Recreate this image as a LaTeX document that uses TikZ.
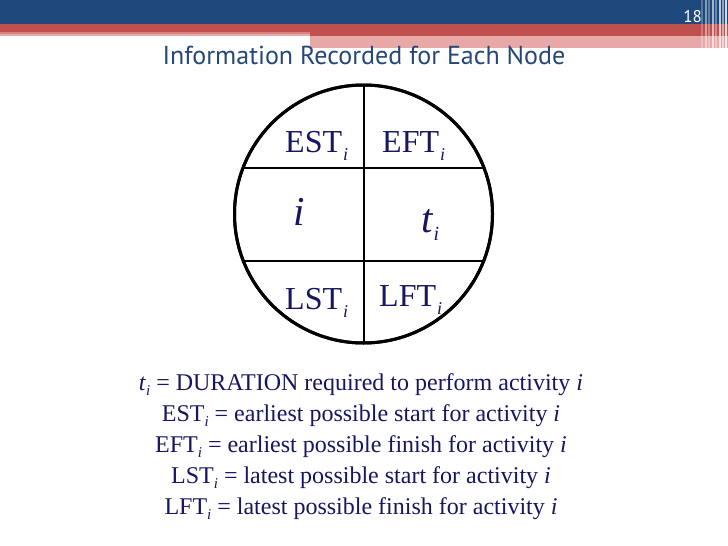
\documentclass[tikz,border=0pt]{standalone}
\usepackage{fontspec}
\setmainfont{Liberation Serif}
\newfontfamily\titlefont{PT Sans}
\definecolor{barblue}{HTML}{1F497D}
\definecolor{barred}{HTML}{C0504D}
\definecolor{barpink}{HTML}{E6A9A8}
\definecolor{lightred}{HTML}{D88280}
\definecolor{titleblue}{HTML}{264778}
\definecolor{navy}{HTML}{161661}
\newcommand{\mysub}[1]{\kern1pt\raisebox{-8pt}{\fontsize{18}{18}\selectfont\itshape #1}}
\newcommand{\bigsub}[1]{\kern1pt\raisebox{-8pt}{\fontsize{20}{20}\selectfont\itshape #1}}
\newcommand{\smsub}[1]{\raisebox{-5pt}{\fontsize{15}{15}\selectfont\itshape #1}}
\begin{document}
\begin{tikzpicture}[x=1pt,y=-1pt,
  cell/.style={anchor=base west,inner sep=0pt,text=navy,font=\fontsize{32}{32}\selectfont},
  big/.style={anchor=base west,inner sep=0pt,text=navy,font=\fontsize{41}{41}\selectfont\itshape},
  legend/.style={anchor=base,inner sep=0pt,text=navy,font=\fontsize{24}{24}\selectfont}]
\useasboundingbox (0,0) rectangle (728,546);
\fill[white] (0,0) rectangle (728,546);
% header bars
\fill[barblue] (0,0) rectangle (728,24);
\fill[barred] (0,24) rectangle (728,32);
\fill[lightred] (0,32) rectangle (310,34);
\fill[barpink] (0,34) rectangle (310,36);
\fill[barred] (310,32) rectangle (728,36);
\fill[barpink] (310,36) rectangle (728,48);
% right edge stripes
\foreach \xx/\op in {701/0.25,705/0.45,708/0.3,712/0.6,715/0.35,719/0.7,722/0.5,725/0.8}
  \fill[white,opacity=\op] (\xx,0) rectangle ++(1.5,48);
\node[anchor=base east,inner sep=0pt,text=white,font=\titlefont\fontsize{17}{17}\selectfont] (pg) at (702,22) {18};
\node[anchor=base,inner sep=0pt,text=titleblue,font=\titlefont\fontsize{26}{26}\selectfont] (title) at (364,64) {Information Recorded for Each Node};
% node circle
\node[circle,draw=black,line width=3pt,minimum size=258pt,inner sep=0pt] (c) at (363.5,214) {};
\begin{scope}
  \clip (363.5,214) circle (129);
  \draw[line width=2pt] (c.north) -- (c.south);
  \draw[line width=2pt] (230,168) -- (500,168);
  \draw[line width=2pt] (230,261) -- (500,261);
\end{scope}
\node[circle,draw=black,line width=3pt,minimum size=258pt,inner sep=0pt] at (c) {};
\node[cell] (est) at (285,152) {EST\mysub{i}};
\node[cell] (eft) at (382,152) {EFT\mysub{i}};
\node[big] (i) at (293,225) {i};
\node[big] (t) at (421,232) {t\bigsub{i}};
\node[cell] (lst) at (285,309) {LST\mysub{i}};
\node[cell] (lft) at (379,306) {LFT\mysub{i}};
% legend
\node[legend] (l1) at (361,390) {\textit{t}\smsub{i} = DURATION required to perform activity \textit{i}};
\node[legend] (l2) at (361,421) {EST\smsub{i} = earliest possible start for activity \textit{i}};
\node[legend] (l3) at (361,452) {EFT\smsub{i} = earliest possible finish for activity \textit{i}};
\node[legend] (l4) at (361,483) {LST\smsub{i} = latest possible start for activity \textit{i}};
\node[legend] (l5) at (361,514) {LFT\smsub{i} = latest possible finish for activity \textit{i}};
\end{tikzpicture}
\end{document}
